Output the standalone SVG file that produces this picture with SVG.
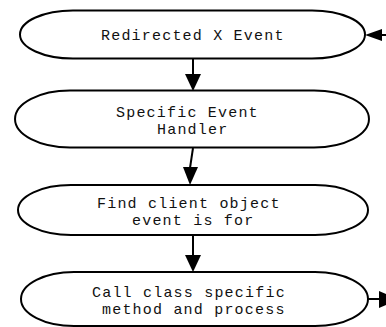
<svg xmlns="http://www.w3.org/2000/svg" width="386" height="327" viewBox="0 0 386 327">
  <style>
    .node { fill: #ffffff; stroke: #000000; stroke-width: 2; }
    .label { font-family: "Liberation Mono", "Courier New", monospace; font-size: 15px; letter-spacing: 1.2px; fill: #111111; }
    .edge { stroke: #000000; stroke-width: 2; fill: none; }
    .head { fill: #000000; stroke: none; }
  </style>
  <rect width="386" height="327" fill="#ffffff"/>

  <g id="connectors">
    <line class="edge" x1="193" y1="58" x2="193" y2="76"/>
    <polygon class="head" points="185,74 201,74 193,91"/>

    <line class="edge" x1="193" y1="148" x2="190" y2="168"/>
    <polygon class="head" points="183,167 198,167 190,185"/>

    <line class="edge" x1="193" y1="235" x2="193" y2="256"/>
    <polygon class="head" points="185,255 201,255 193,272"/>

    <line class="edge" x1="380" y1="35" x2="386" y2="35"/>
    <polygon class="head" points="365,35 382,29 382,41"/>

    <line class="edge" x1="368" y1="299" x2="381" y2="299"/>
    <polygon class="head" points="379,291 386,294 386,305 379,308"/>
  </g>

  <g id="redirected-x-event">
    <path class="node" d="M73,10.5 H312 A53,24 0 0 1 312,58.5 H73 A53,24 0 0 1 73,10.5 Z"/>
    <text class="label" x="101" y="40">Redirected X Event</text>
  </g>

  <g id="specific-event-handler">
    <path class="node" d="M70,90.5 H314 A55,28.5 0 0 1 314,147.5 H70 A55,28.5 0 0 1 70,90.5 Z"/>
    <text class="label" x="116" y="117">Specific Event</text>
    <text class="label" x="157" y="134">Handler</text>
  </g>

  <g id="find-client-object">
    <path class="node" d="M71,185 H315 A53,25 0 0 1 315,235 H71 A53,25 0 0 1 71,185 Z"/>
    <text class="label" x="97" y="208">Find client object</text>
    <text class="label" x="132" y="225">event is for</text>
  </g>

  <g id="call-class-method">
    <path class="node" d="M74,272 H315 A53,27 0 0 1 315,326 H74 A53,27 0 0 1 74,272 Z"/>
    <text class="label" x="92" y="297">Call class specific</text>
    <text class="label" x="102" y="314">method and process</text>
  </g>
</svg>
